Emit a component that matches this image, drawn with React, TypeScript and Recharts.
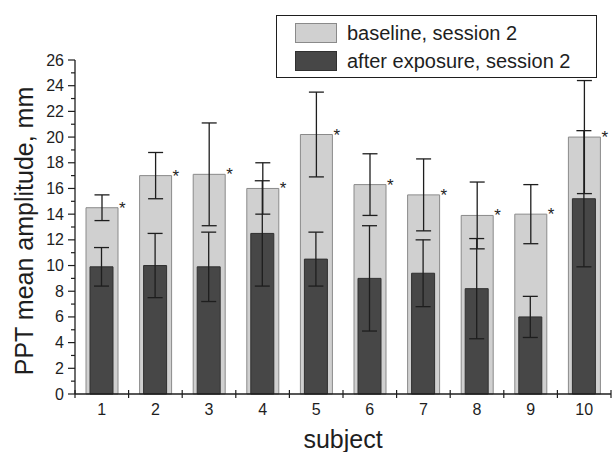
import { BarChart, Bar, XAxis, YAxis, ErrorBar, LabelList } from "recharts";

// values
const subjects = ["1", "2", "3", "4", "5", "6", "7", "8", "9", "10"];
const baseline = [14.5, 17.0, 17.1, 16.0, 20.2, 16.3, 15.5, 13.9, 14.0, 20.0];
const baselineErr = [1.0, 1.8, 4.0, 2.0, 3.3, 2.4, 2.8, 2.6, 2.3, 4.4];
const afterExp = [9.9, 10.0, 9.9, 12.5, 10.5, 9.0, 9.4, 8.2, 6.0, 15.2];
const afterExpErr = [1.5, 2.5, 2.7, 4.1, 2.1, 4.1, 2.6, 3.9, 1.6, 5.3];
const significant = [true, true, true, true, true, true, true, true, true, true];
const yTicks = [0, 1, 2, 3, 4, 5, 6, 7, 8, 9, 10, 11, 12, 13, 14, 15, 16, 17, 18, 19, 20, 21, 22, 23, 24, 25, 26];

const data = subjects.map((s, i) => ({
  subject: s,
  baseline: baseline[i],
  baselineErr: baselineErr[i],
  after: afterExp[i],
  afterErr: afterExpErr[i],
  star: significant[i] ? "*" : "",
}));

const W = 612;
const H = 452;
const MARGIN = { top: 60, right: 1, bottom: 0, left: 0 };
const Y_AXIS_W = 75;
const X_AXIS_H = 58;
const BAND = (W - MARGIN.left - MARGIN.right - Y_AXIS_W) / subjects.length;
const FONT = "'Liberation Sans', Arial, Helvetica, sans-serif";
const INK = "#1e1e1e";

const LIGHT = "#d0d0d0";
const LIGHT_EDGE = "#8a8a8a";
const DARK = "#474747";
const DARK_EDGE = "#303030";

function YTick(props: any) {
  const { x, y, payload } = props;
  const major = payload.value % 2 === 0;
  return (
    <g>
      <line x1={x - (major ? 7 : 4)} x2={x} y1={y} y2={y} stroke={INK} strokeWidth={1.2} />
      {major && (
        <text x={x - 11} y={y + 5.5} textAnchor="end" fontSize={16} fontFamily={FONT} fill={INK}>
          {payload.value}
        </text>
      )}
    </g>
  );
}

function XTick(props: any) {
  const { x, y, payload, index } = props;
  const left = x - BAND / 2;
  const right = x + BAND / 2;
  return (
    <g>
      <line x1={left} x2={left} y1={y - 4} y2={y + 4} stroke={INK} strokeWidth={1.2} />
      {index === subjects.length - 1 && (
        <line x1={right} x2={right} y1={y - 4} y2={y + 4} stroke={INK} strokeWidth={1.2} />
      )}
      <text x={x} y={y + 21} textAnchor="middle" fontSize={16} fontFamily={FONT} fill={INK}>
        {payload.value}
      </text>
    </g>
  );
}

function Star(props: any) {
  const { x, y, width, value } = props;
  if (!value) return null;
  return (
    <text x={x + width + 1} y={y + 6} fontSize={17} fontFamily={FONT} fill={INK}>
      {value}
    </text>
  );
}

function LegendBox() {
  const rows = [
    { label: "baseline, session 2", fill: LIGHT, edge: LIGHT_EDGE },
    { label: "after exposure, session 2", fill: DARK, edge: DARK_EDGE },
  ];
  return (
    <div
      style={{
        position: "absolute",
        left: 276,
        top: 15,
        width: 319,
        height: 61,
        border: `1px solid ${INK}`,
        background: "#fff",
        fontFamily: FONT,
        fontSize: 20,
        color: INK,
      }}
    >
      {rows.map((r, i) => (
        <div key={r.label} style={{ position: "absolute", left: 18, top: 7 + i * 27.5, height: 20, display: "flex", alignItems: "center" }}>
          <div style={{ width: 40, height: 18, background: r.fill, border: `1px solid ${r.edge}` }} />
          <span style={{ marginLeft: 10, whiteSpace: "nowrap", lineHeight: "20px" }}>{r.label}</span>
        </div>
      ))}
    </div>
  );
}

export default function App() {
  return (
    <div style={{ position: "absolute", left: 0, top: 0, width: W, height: H, background: "#fff" }}>
      <BarChart width={W} height={H} data={data} margin={MARGIN}>
        <XAxis xAxisId="after" dataKey="subject" hide height={0} />
        <XAxis
          xAxisId="base"
          dataKey="subject"
          height={X_AXIS_H}
          tick={<XTick />}
          tickLine={false}
          tickSize={0}
          tickMargin={0}
          interval={0}
          axisLine={{ stroke: INK, strokeWidth: 1.3 }}
          label={{
            value: "subject",
            content: () => (
              <text x={343} y={448} textAnchor="middle" fontSize={25} fontFamily={FONT} fill={INK}>
                subject
              </text>
            ),
          }}
        />
        <YAxis
          width={Y_AXIS_W}
          domain={[0, 26]}
          ticks={yTicks}
          interval={0}
          tick={<YTick />}
          tickLine={false}
          tickSize={0}
          tickMargin={0}
          axisLine={{ stroke: INK, strokeWidth: 1.3 }}
          label={{
            value: "PPT mean amplitude, mm",
            content: () => (
              <text
                x={33}
                y={231}
                transform="rotate(-90 33 231)"
                textAnchor="middle"
                fontSize={25}
                fontFamily={FONT}
                fill={INK}
              >
                PPT mean amplitude, mm
              </text>
            ),
          }}
        />
        <Bar
          xAxisId="base"
          dataKey="baseline"
          barSize={32}
          fill={LIGHT}
          stroke={LIGHT_EDGE}
          strokeWidth={1}
          isAnimationActive={false}
        >
          <ErrorBar dataKey="baselineErr" width={7.5} stroke={INK} strokeWidth={1.3} />
          <LabelList dataKey="star" content={<Star />} />
        </Bar>
        <Bar
          xAxisId="after"
          dataKey="after"
          barSize={23}
          fill={DARK}
          stroke={DARK_EDGE}
          strokeWidth={1}
          isAnimationActive={false}
        >
          <ErrorBar dataKey="afterErr" width={7.5} stroke={INK} strokeWidth={1.3} />
        </Bar>
      </BarChart>
      <LegendBox />
    </div>
  );
}
